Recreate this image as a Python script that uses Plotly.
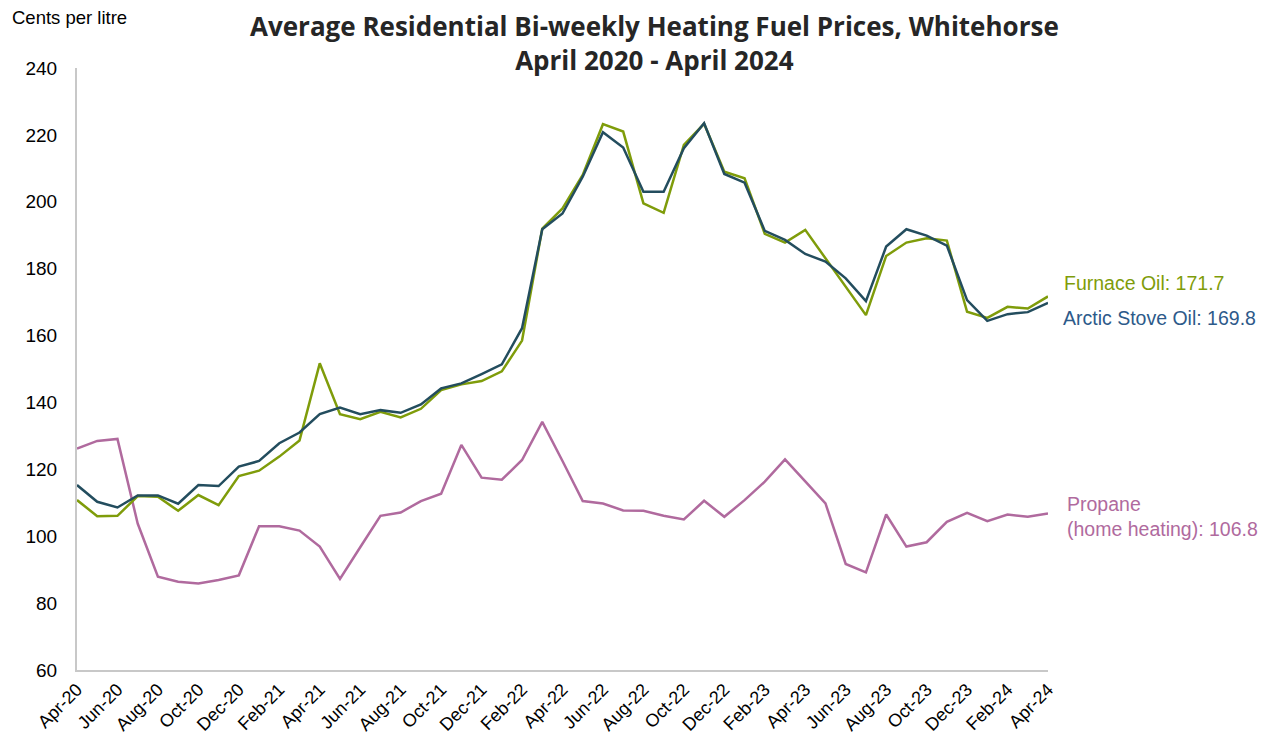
import plotly.graph_objects as go

months = ["Apr-20","May-20","Jun-20","Jul-20","Aug-20","Sep-20","Oct-20","Nov-20","Dec-20",
          "Jan-21","Feb-21","Mar-21","Apr-21","May-21","Jun-21","Jul-21","Aug-21","Sep-21","Oct-21","Nov-21","Dec-21",
          "Jan-22","Feb-22","Mar-22","Apr-22","May-22","Jun-22","Jul-22","Aug-22","Sep-22","Oct-22","Nov-22","Dec-22",
          "Jan-23","Feb-23","Mar-23","Apr-23","May-23","Jun-23","Jul-23","Aug-23","Sep-23","Oct-23","Nov-23","Dec-23",
          "Jan-24","Feb-24","Mar-24","Apr-24"]

furnace = [110.8,106.0,106.1,112.0,111.8,107.6,112.3,109.3,118.0,
           119.6,123.8,128.6,151.7,136.5,135.0,137.2,135.5,138.1,143.7,145.4,146.4,
           149.3,158.5,192.0,198.0,208.0,223.2,221.0,199.5,196.7,217.0,223.3,209.0,
           207.0,190.4,187.8,191.6,183.1,174.5,166.1,183.8,187.8,189.1,188.4,167.1,
           165.3,168.6,168.1,171.7]

arctic = [115.3,110.3,108.6,112.2,112.2,109.7,115.3,115.0,120.8,
          122.5,127.8,131.0,136.5,138.5,136.5,137.7,136.9,139.4,144.2,145.7,148.5,
          151.4,162.2,191.8,196.5,207.5,220.8,216.2,203.0,203.0,216.0,223.5,208.3,
          205.7,191.3,188.6,184.4,182.1,177.1,170.3,186.6,191.8,189.9,186.9,170.6,
          164.4,166.4,167.0,169.8]

propane = [126.2,128.5,129.1,103.8,87.9,86.4,85.9,86.9,88.3,
           103.0,103.0,101.7,96.9,87.2,96.7,106.1,107.1,110.5,112.7,127.3,117.5,
           116.9,122.8,134.2,122.5,110.5,109.8,107.7,107.6,106.1,105.0,110.6,105.8,
           110.8,116.3,123.0,116.4,109.8,91.7,89.2,106.5,96.9,98.2,104.3,107.0,
           104.5,106.5,105.8,106.8]

tick_labels = months[::2]
title_text = "Average Residential Bi-weekly Heating Fuel Prices, Whitehorse<br>April 2020 - April 2024"

GREEN = "#7f9c0a"
BLUE = "#234d5e"
BLUE_TXT = "#2d5a8a"
PINK = "#b06a9e"

fig = go.Figure()
fig.add_trace(go.Scatter(x=months, y=propane, mode="lines", line=dict(color=PINK, width=2.5), name="Propane"))
fig.add_trace(go.Scatter(x=months, y=furnace, mode="lines", line=dict(color=GREEN, width=2.5), name="Furnace Oil"))
fig.add_trace(go.Scatter(x=months, y=arctic, mode="lines", line=dict(color=BLUE, width=2.5), name="Arctic Stove Oil"))

fig.update_layout(
    width=1261, height=732,
    margin=dict(l=69, r=221, t=60, b=70, autoexpand=False),
    paper_bgcolor="white", plot_bgcolor="white",
    showlegend=False,
    font=dict(family="Liberation Sans, Arial, sans-serif", size=19, color="#000"),
)
fig.update_xaxes(
    type="category", range=[0, len(months) - 1], automargin=False,
    tickmode="array", tickvals=tick_labels, ticktext=tick_labels,
    tickangle=-45, showgrid=False, showline=True, linecolor="#c8c8c8", linewidth=2,
    ticks="", tickfont=dict(size=18),
)
fig.update_yaxes(
    range=[60, 240], dtick=20, showgrid=False, showline=True, linecolor="#c8c8c8", linewidth=2,
    ticks="", tickfont=dict(size=19), zeroline=False, ticklabelstandoff=14, automargin=False,
)

title_font = dict(family="Open Sans, sans-serif", size=26, color="#262626", weight=700)
fig.add_annotation(xref="paper", yref="paper", x=0.5944, y=1.041, xanchor="center", yanchor="middle",
                   text=title_text, showarrow=False, font=title_font)

fig.add_annotation(xref="paper", yref="paper", x=-0.069, y=1.0847, xanchor="left", yanchor="middle",
                   text="Cents per litre", showarrow=False, font=dict(size=18.5))

fig.add_annotation(xref="paper", yref="y", x=1, y=furnace[-1], yshift=13, xshift=14, xanchor="left",
                   text=f"Furnace Oil: {furnace[-1]}", showarrow=False, font=dict(color=GREEN, size=19.5))
fig.add_annotation(xref="paper", yref="y", x=1, y=arctic[-1], yshift=-15, xshift=13, xanchor="left",
                   text=f"Arctic Stove Oil: {arctic[-1]}", showarrow=False, font=dict(color=BLUE_TXT, size=19.5))
fig.add_annotation(xref="paper", yref="y", x=1, y=propane[-1], yshift=-3, xshift=17, xanchor="left", align="left",
                   text=f"Propane<br>(home heating): {propane[-1]}", showarrow=False, font=dict(color=PINK, size=19.5))

fig.write_html("out.html")
